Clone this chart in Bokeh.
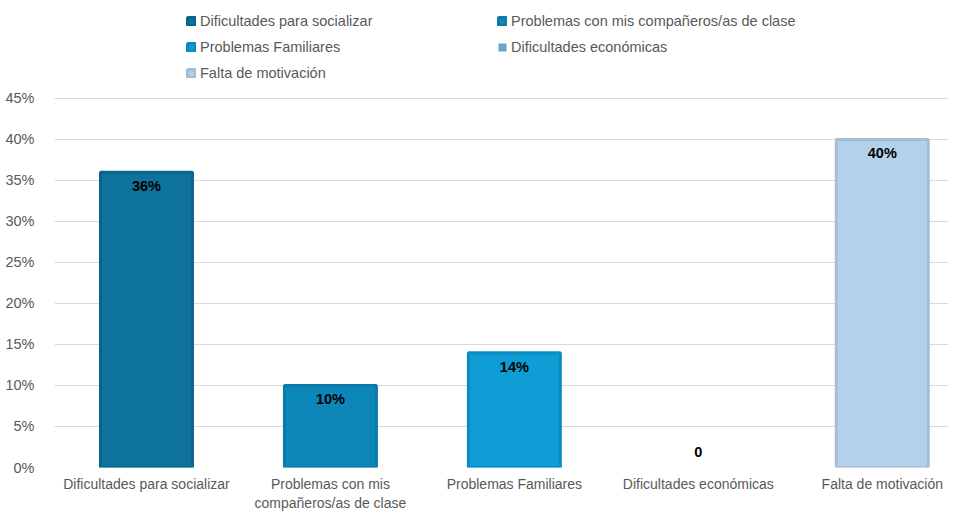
from bokeh.plotting import figure
from bokeh.models import (ColumnDataSource, Range1d, FixedTicker,
                          NumeralTickFormatter, Legend, LegendItem)
from bokeh.core.properties import value
from bokeh.embed import file_html
from bokeh.resources import INLINE

# ---- data ----
categories = ["Dificultades para socializar", "Problemas con mis compañeros/as de clase",
              "Problemas Familiares", "Dificultades económicas", "Falta de motivación"]
axis_labels = ["Dificultades para socializar", "Problemas con mis\ncompañeros/as de clase",
               "Problemas Familiares", "Dificultades económicas", "Falta de motivación"]
values = [0.36, 0.10, 0.14, 0.0, 0.40]
data_labels = ["36%", "10%", "14%", "0", "40%"]
y_ticks = [0.0, 0.05, 0.10, 0.15, 0.20, 0.25, 0.30, 0.35, 0.40, 0.45]
fill_colors = ["#0e739c", "#0d87ba", "#0e9dd4", "#6fa3c8", "#b4d1ea"]
line_colors = ["#0a6489", "#0b7aa8", "#0b8cbf", "#6fa3c8", "#a4bed6"]

FONT = "Liberation Sans"
GRAY = "#595959"

xs = list(range(len(categories)))
src = ColumnDataSource(dict(
    x=xs, top=values, cat=categories, fill=fill_colors, line=line_colors,
    lw=[0 if v == 0 else 3 for v in values],
    lab=data_labels,
    yoff=[-16 if v == 0 else 14 for v in values],
))

# extra headroom above 45% holds the legend inside the frame
p = figure(width=948, height=513, output_backend="svg", toolbar_location=None,
           x_range=Range1d(-0.5, 4.36), y_range=Range1d(0, 0.5695),
           min_border_left=54, min_border_right=0, min_border_top=0, min_border_bottom=35)
p.outline_line_color = None
p.background_fill_color = "white"
p.border_fill_color = "white"

r = p.vbar(x="x", top="top", width=0.5, source=src, fill_color="fill",
           line_color="line", line_width="lw")

p.text(x="x", y="top", text="lab", source=src, y_offset="yoff",
       text_align="center", text_baseline="middle", text_font=value(FONT),
       text_font_size="14.5px", text_font_style="bold", text_color="#000000")

# axes
p.xaxis.ticker = FixedTicker(ticks=xs)
p.xaxis.major_label_overrides = {i: l for i, l in zip(xs, axis_labels)}
p.yaxis.ticker = FixedTicker(ticks=y_ticks)
p.yaxis.formatter = NumeralTickFormatter(format="0%")
for ax in (p.xaxis, p.yaxis):
    ax.axis_line_color = None
    ax.major_tick_line_color = None
    ax.minor_tick_line_color = None
    ax.major_label_text_font = FONT
    ax.major_label_text_color = GRAY
p.xaxis.major_label_text_font_size = "14px"
p.yaxis.major_label_text_font_size = "14.5px"
p.xaxis.major_label_standoff = 2
p.yaxis.major_label_standoff = 14

p.xgrid.grid_line_color = None
p.ygrid.grid_line_color = "#d9d9d9"
p.ygrid.grid_line_width = 1

# legend
items = [LegendItem(label=c, renderers=[r], index=i) for i, c in enumerate(categories)]
legend = Legend(items=items, ncols=2, location=(132, 383), orientation="horizontal",
                glyph_width=10, glyph_height=10, label_standoff=4, label_width=294,
                label_height=23, spacing=3, padding=0, margin=0,
                label_text_font=FONT, label_text_font_size="14.5px", label_text_color=GRAY,
                border_line_color=None, background_fill_alpha=0)
p.add_layout(legend, "center")

open("out.html", "w").write(file_html(p, INLINE))
